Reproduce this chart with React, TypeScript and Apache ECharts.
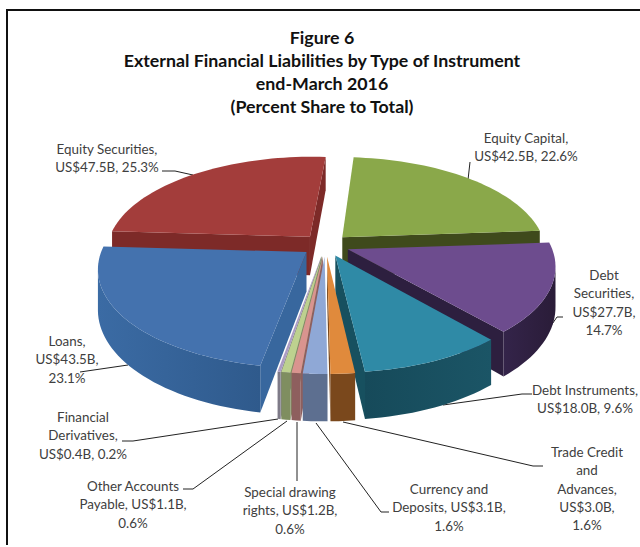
import React, { useEffect, useRef } from "react";
import * as echarts from "echarts";

// Liabilities by instrument, clockwise from the first slice.
const categories = [
  "Equity Capital",
  "Debt Securities",
  "Debt Instruments",
  "Trade Credit and Advances",
  "Currency and Deposits",
  "Special drawing rights",
  "Other Accounts Payable",
  "Financial Derivatives",
  "Loans",
  "Equity Securities",
];
const amounts = [42.5, 27.7, 18.0, 3.0, 3.1, 1.2, 1.1, 0.4, 43.5, 47.5];
const shares = [22.6, 14.7, 9.6, 1.6, 1.6, 0.6, 0.6, 0.2, 23.1, 25.3];

const titleLines = [
  "Figure 6",
  "External Financial Liabilities by Type of Instrument",
  "end-March 2016",
  "(Percent Share to Total)",
];

const labelLines = [
  ["Equity Capital,", "US$42.5B, 22.6%"],
  ["Debt", "Securities,", "US$27.7B,", "14.7%"],
  ["Debt Instruments,", "US$18.0B, 9.6%"],
  ["Trade Credit", "and", "Advances,", "US$3.0B,", "1.6%"],
  ["Currency and", "Deposits, US$3.1B,", "1.6%"],
  ["Special drawing", "rights, US$1.2B,", "0.6%"],
  ["Other Accounts", "Payable, US$1.1B,", "0.6%"],
  ["Financial", "Derivatives,", "US$0.4B, 0.2%"],
  ["Loans,", "US$43.5B,", "23.1%"],
  ["Equity Securities,", "US$47.5B, 25.3%"],
];

// Centre x and first-line y of each label, then its leader line.
const labelAt: [number, number][] = [
  [526, 138], [604, 275], [585, 390], [587, 452], [449, 489],
  [290, 492], [133, 486], [83, 417], [67, 341], [107, 149],
];
const leaders: number[][][] = [
  [[470, 162], [468, 180]],
  [[563, 317], [557, 317], [548, 330]],
  [[532, 394], [522, 394], [443, 405]],
  [[543, 466], [533, 466], [343, 422]],
  [[389, 512], [381, 512], [316, 423]],
  [[297, 481], [297, 422]],
  [[183, 489], [193, 489], [287, 421]],
  [[122, 441], [133, 441], [278, 419]],
  [[80, 372], [128, 365]],
  [[162, 171], [175, 171], [193, 175]],
];

const topColors = [
  "#8aa84a", "#6d4c8e", "#2f8aa6", "#e08a3c", "#8fa8d6",
  "#d9948f", "#bdd18f", "#ab9cc4", "#4472ae", "#a33d3b",
];
const rimFrom = [
  "#3f4a1c", "#34244a", "#164a5a", "#7a481c", "#5d6f90",
  "#8e5f5e", "#7f8e60", "#7e7a88", "#3b6ba4", "#4f1614",
];
const rimTo = [
  "#3f4a1c", "#2a1c38", "#1b5566", "#7a481c", "#5d6f90",
  "#8e5f5e", "#7f8e60", "#7e7a88", "#2f5a8c", "#4f1614",
];
const cutColors = [
  "#3f4a1c", "#2d1f3f", "#17505f", "#7a481c", "#5d6f90",
  "#8e5f5e", "#7f8e60", "#7e7a88", "#38679e", "#7d2a28",
];

// Painted back to front so nearer slices cover the ones behind them.
const paintOrder = [9, 0, 8, 1, 2, 3, 7, 6, 5, 4];

const CX = 325.5;
const CY = 245;
const RX = 203;
const RY = 95;
const PERSPECTIVE = 0.158;
const EXPLODE = 0.118;
const DEPTH = 39;
const FIRST_ANGLE = 4.5;

function project(u: number, v: number, lower: boolean): number[] {
  const f = 1 / (1 - PERSPECTIVE * v);
  return [CX + RX * u * f, CY + RY * v * f + (lower ? DEPTH * f : 0)];
}

const total = shares.reduce((a, b) => a + b, 0);

function sliceGeometry(index: number) {
  let before = 0;
  for (let i = 0; i < index; i++) before += shares[i];
  const rad = Math.PI / 180;
  const start = FIRST_ANGLE + (before / total) * 360;
  const sweep = (shares[index] / total) * 360;
  const mid = (start + sweep / 2) * rad;
  const ou = EXPLODE * Math.sin(mid);
  const ov = -EXPLODE * Math.cos(mid);
  const steps = Math.max(2, Math.ceil(sweep / 2));
  const rim: number[][] = [];
  for (let s = 0; s <= steps; s++) {
    const a = (start + (sweep * s) / steps) * rad;
    rim.push([ou + Math.sin(a), ov - Math.cos(a)]);
  }
  return { apex: [ou, ov], rim };
}

// The sector runs clockwise on screen, so an edge travelling leftwards faces the viewer.
const facesViewer = (a: number[], b: number[]) =>
  project(b[0], b[1], false)[0] < project(a[0], a[1], false)[0];

function renderSlice(_params: any, api: any) {
  const index = api.value(0) as number;
  const rank = paintOrder.indexOf(index) * 10;
  const { apex, rim } = sliceGeometry(index);
  const children: any[] = [];

  const cutWall = (a: number[], b: number[]) => {
    if (!facesViewer(a, b)) return;
    children.push({
      type: "polygon",
      z2: rank,
      shape: {
        points: [
          project(a[0], a[1], false),
          project(b[0], b[1], false),
          project(b[0], b[1], true),
          project(a[0], a[1], true),
        ],
      },
      style: { fill: cutColors[index] },
    });
  };
  cutWall(apex, rim[0]);
  cutWall(rim[rim.length - 1], apex);

  const front: number[][] = [];
  rim.forEach((p, i) => {
    const next = rim[i + 1];
    const prev = rim[i - 1];
    if ((next && facesViewer(p, next)) || (prev && facesViewer(prev, p))) {
      front.push(p);
    }
  });
  if (front.length > 1) {
    const upper = front.map((p) => project(p[0], p[1], false));
    const lower = front.map((p) => project(p[0], p[1], true)).reverse();
    children.push({
      type: "polygon",
      z2: rank + 1,
      shape: { points: [...upper, ...lower] },
      style: {
        fill: new echarts.graphic.LinearGradient(0, 0, 1, 0, [
          { offset: 0, color: rimFrom[index] },
          { offset: 1, color: rimTo[index] },
        ]),
      },
    });
  }

  children.push({
    type: "polygon",
    z2: rank + 2,
    shape: { points: [apex, ...rim].map((p) => project(p[0], p[1], false)) },
    style: { fill: topColors[index] },
  });
  return { type: "group", children };
}

function labelGraphics() {
  const items: any[] = [];
  titleLines.forEach((line, i) => {
    items.push({
      type: "text",
      x: 322,
      y: 37 + i * 23,
      style: {
        text: line,
        fill: "#111111",
        font: "bold 17.8px Lato",
        align: "center",
        verticalAlign: "middle",
      },
    });
  });
  labelLines.forEach((lines, i) => {
    lines.forEach((line, k) => {
      items.push({
        type: "text",
        x: labelAt[i][0],
        y: labelAt[i][1] + k * 18.3,
        style: {
          text: line,
          fill: "#404040",
          font: "13.4px Lato",
          align: "center",
          verticalAlign: "middle",
        },
      });
    });
  });
  leaders.forEach((points) => {
    items.push({
      type: "polyline",
      shape: { points },
      style: { stroke: "#222222", lineWidth: 1, fill: "none" },
    });
  });
  // Open frame: only the top and left rules of the box are drawn.
  items.push({
    type: "line",
    shape: { x1: 6, y1: 10, x2: 640, y2: 10 },
    style: { stroke: "#111111", lineWidth: 2 },
  });
  items.push({
    type: "line",
    shape: { x1: 7, y1: 10, x2: 7, y2: 545 },
    style: { stroke: "#111111", lineWidth: 2 },
  });
  return items;
}

export default function App() {
  const ref = useRef<HTMLDivElement>(null);
  useEffect(() => {
    const chart = echarts.init(ref.current!, undefined, { renderer: "svg" });
    chart.setOption({
      animation: false,
      backgroundColor: "#ffffff",
      series: [
        {
          type: "custom",
          coordinateSystem: "none",
          renderItem: renderSlice,
          data: categories.map((name, i) => ({
            name,
            value: [i, shares[i], amounts[i]],
          })),
          encode: { value: 1 },
          silent: true,
        },
      ],
      graphic: labelGraphics(),
    });
    return () => chart.dispose();
  }, []);
  return (
    <div
      ref={ref}
      style={{ position: "fixed", left: 0, top: 0, width: 640, height: 547 }}
    />
  );
}
